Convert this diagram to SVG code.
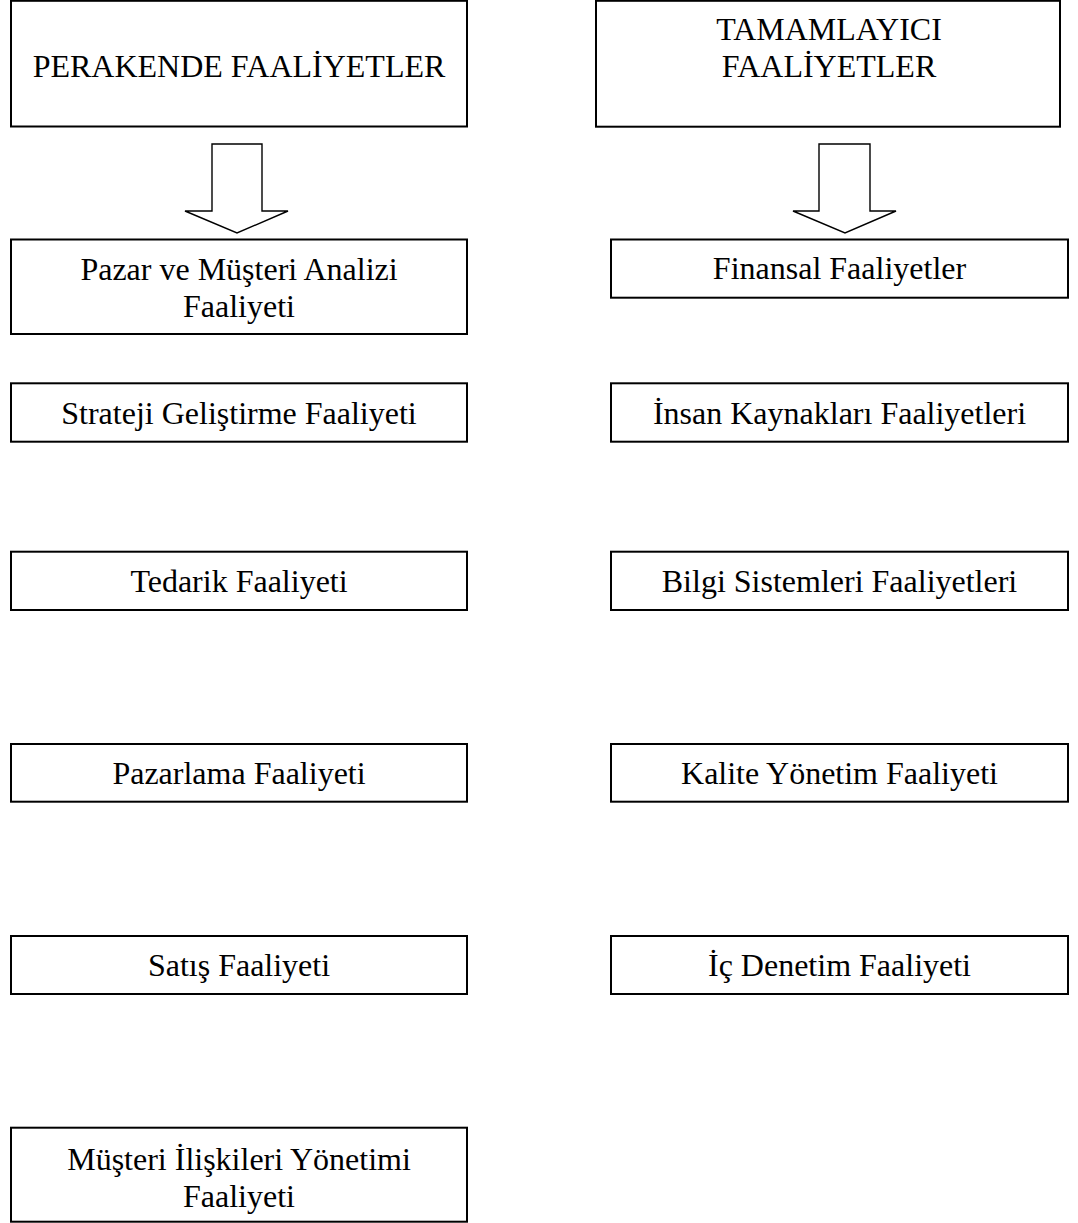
<svg xmlns="http://www.w3.org/2000/svg" width="1078" height="1223" viewBox="0 0 1078 1223">
  <style>
    .box { fill: #ffffff; stroke: #000000; stroke-width: 2; }
    .lbl { font-family: "Liberation Serif", "Times New Roman", serif; font-size: 32px; fill: #000000; text-anchor: middle; }
    .blk { fill: #ffffff; stroke: #000000; stroke-width: 1.4; stroke-linejoin: miter; }
  </style>
  <rect x="0" y="0" width="1078" height="1223" fill="#ffffff"/>

  <!-- block arrows from the two header boxes -->
  <g id="connectors">
    <path class="blk" d="M212,144 H262 V211 H288 L237,233 L185,211 H212 Z"/>
    <path class="blk" d="M819,144 H870 V211 H896 L845,233 L793,211 H819 Z"/>
  </g>

  <!-- left column -->
  <g id="perakende">
    <rect class="box" x="11" y="0.8" width="456" height="125.7"/>
    <text class="lbl" x="239" y="77">PERAKENDE FAALİYETLER</text>
  </g>
  <g id="pazar-musteri">
    <rect class="box" x="11" y="239.5" width="456" height="94.5"/>
    <text class="lbl" x="239" y="280">Pazar ve Müşteri Analizi</text>
    <text class="lbl" x="239" y="317">Faaliyeti</text>
  </g>
  <g id="strateji">
    <rect class="box" x="11" y="383.3" width="456" height="58.4"/>
    <text class="lbl" x="239" y="424">Strateji Geliştirme Faaliyeti</text>
  </g>
  <g id="tedarik">
    <rect class="box" x="11" y="551.7" width="456" height="58.3"/>
    <text class="lbl" x="239" y="592">Tedarik Faaliyeti</text>
  </g>
  <g id="pazarlama">
    <rect class="box" x="11" y="744" width="456" height="57.7"/>
    <text class="lbl" x="239" y="784">Pazarlama Faaliyeti</text>
  </g>
  <g id="satis">
    <rect class="box" x="11" y="936" width="456" height="58"/>
    <text class="lbl" x="239" y="976">Satış Faaliyeti</text>
  </g>
  <g id="musteri-iliskileri">
    <rect class="box" x="11" y="1127.7" width="456" height="94"/>
    <text class="lbl" x="239" y="1170">Müşteri İlişkileri Yönetimi</text>
    <text class="lbl" x="239" y="1207">Faaliyeti</text>
  </g>

  <!-- right column -->
  <g id="tamamlayici">
    <rect class="box" x="596" y="0.8" width="464" height="125.9"/>
    <text class="lbl" x="829" y="40">TAMAMLAYICI</text>
    <text class="lbl" x="829" y="77">FAALİYETLER</text>
  </g>
  <g id="finansal">
    <rect class="box" x="611" y="239.5" width="457" height="58.2"/>
    <text class="lbl" x="839.5" y="279">Finansal Faaliyetler</text>
  </g>
  <g id="insan-kaynaklari">
    <rect class="box" x="611" y="383.3" width="457" height="58.4"/>
    <text class="lbl" x="839.5" y="424">İnsan Kaynakları Faaliyetleri</text>
  </g>
  <g id="bilgi-sistemleri">
    <rect class="box" x="611" y="551.7" width="457" height="58.3"/>
    <text class="lbl" x="839.5" y="592">Bilgi Sistemleri Faaliyetleri</text>
  </g>
  <g id="kalite">
    <rect class="box" x="611" y="744" width="457" height="57.7"/>
    <text class="lbl" x="839.5" y="784">Kalite Yönetim Faaliyeti</text>
  </g>
  <g id="ic-denetim">
    <rect class="box" x="611" y="936" width="457" height="58"/>
    <text class="lbl" x="839.5" y="976">İç Denetim Faaliyeti</text>
  </g>
</svg>
